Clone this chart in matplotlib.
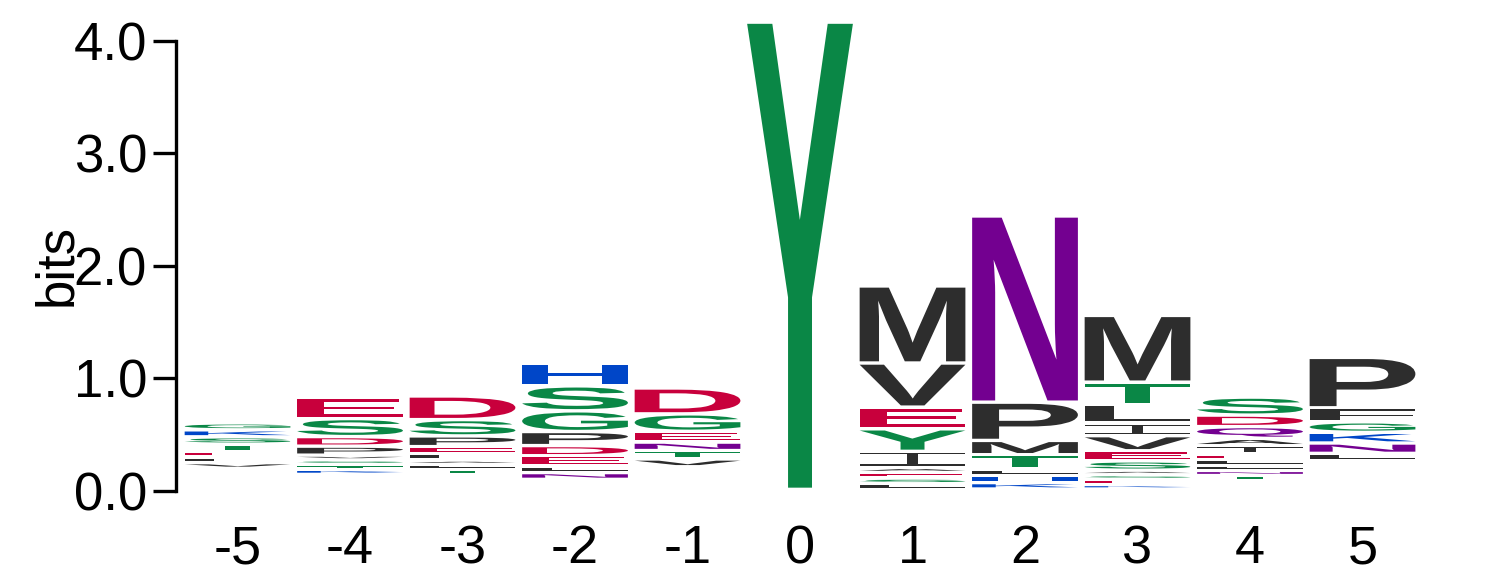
import numpy as np
import matplotlib
matplotlib.use('Agg')
import matplotlib.pyplot as plt
from matplotlib.textpath import TextPath
from matplotlib.path import Path
from matplotlib.patches import PathPatch
from matplotlib.font_manager import FontProperties
from matplotlib.transforms import Affine2D

plt.rcParams['font.family'] = ['Liberation Sans', 'DejaVu Sans']

# sequence positions
positions = [-5, -4, -3, -2, -1, 0, 1, 2, 3, 4, 5]

# letters of each stack, bottom to top
stack_letters = ["VLETSKG", "KTSVPDSE", "TLALEPSD", "NLEDPGSH", "VTNEGD",
                 "Y", "LSEAIYEVM", "KHLTMPN", "KESASEVILTM", "TNLLEIAQDS", "LNKGFP"]

# letter heights (bits), bottom to top
stack_heights = [
    [0.02, 0.02, 0.02, 0.035, 0.035, 0.032, 0.032],
    [0.015, 0.012, 0.012, 0.012, 0.05, 0.055, 0.13, 0.155],
    [0.015, 0.012, 0.01, 0.03, 0.03, 0.065, 0.115, 0.18],
    [0.03, 0.03, 0.06, 0.06, 0.095, 0.154, 0.192, 0.171],
    [0.039, 0.045, 0.045, 0.066, 0.125, 0.2],
    [4.123],
    [0.02, 0.02, 0.02, 0.015, 0.113, 0.17, 0.163, 0.362, 0.655],
    [0.027, 0.035, 0.026, 0.097, 0.097, 0.31, 1.625],
    [0.01, 0.015, 0.012, 0.01, 0.053, 0.06, 0.104, 0.083, 0.134, 0.169, 0.563],
    [0.012, 0.015, 0.015, 0.02, 0.02, 0.045, 0.035, 0.075, 0.072, 0.13],
    [0.033, 0.062, 0.065, 0.063, 0.095, 0.418],
]

# where the lowest visible letter of each stack begins (bits)
stack_starts = [0.214, 0.16, 0.16, 0.116, 0.228, 0.027, 0.027, 0.03, 0.03, 0.108, 0.284]

# chemistry colour scheme
colors = {}
for c in "GSTYC":
    colors[c] = '#0A8746'
for c in "DE":
    colors[c] = '#C8003C'
for c in "KRH":
    colors[c] = '#0046C8'
for c in "NQ":
    colors[c] = '#730090'
for c in "AVLIPWFM":
    colors[c] = '#2D2D2D'

gap = 0.03
letter_w = 0.94
fp = FontProperties(family='Liberation Sans', weight='bold')

# serif capital I, in a unit box
t_bar, s_half = 0.1, 0.055
serif_i = Path([(0, 0), (1, 0), (1, t_bar), (0.5 + s_half, t_bar), (0.5 + s_half, 1 - t_bar),
                (1, 1 - t_bar), (1, 1), (0, 1), (0, 1 - t_bar), (0.5 - s_half, 1 - t_bar),
                (0.5 - s_half, t_bar), (0, t_bar), (0, 0)], closed=True)


def draw_letter(ax, ch, xc, y0, w, h, color):
    if ch == 'I':
        tp = serif_i
    else:
        tp = TextPath((0, 0), ch, size=1, prop=fp)
    bb = tp.get_extents()
    t = Affine2D().translate(-bb.x0, -bb.y0).scale(w / bb.width, h / bb.height).translate(xc - w / 2, y0)
    ax.add_patch(PathPatch(t.transform_path(tp), facecolor=color, edgecolor='none',
                           lw=0, clip_on=False))


fig = plt.figure(figsize=(14.86, 5.83), dpi=100)
ax = fig.add_axes([176 / 1486, 92.3 / 583, 1265.6 / 1486, 472.5 / 583])

for i in range(len(positions)):
    y = stack_starts[i]
    for ch, h in zip(stack_letters[i], stack_heights[i]):
        draw_letter(ax, ch, positions[i], y, letter_w, h, colors[ch])
        y += h + gap

ax.set_xlim(-5.547, 5.703)
ax.set_ylim(0, 4.2)

for s in ['top', 'right', 'bottom']:
    ax.spines[s].set_visible(False)
ax.spines['left'].set_linewidth(2.4)
ax.spines['left'].set_bounds(0, 4)

ax.set_yticks([0, 1, 2, 3, 4])
ax.set_yticklabels(['0.0', '1.0', '2.0', '3.0', '4.0'])
ax.tick_params(axis='y', length=16.6, width=2.4, pad=4.3, labelsize=38)

ax.set_xticks(positions)
ax.set_xticklabels([str(p) for p in positions])
ax.tick_params(axis='x', length=0, pad=24, labelsize=39)

fig.text(57 / 1486, 1 - 265.5 / 583, 'bits', rotation=90, ha='center', va='center', fontsize=38)

fig.savefig('out.png', dpi=100)
